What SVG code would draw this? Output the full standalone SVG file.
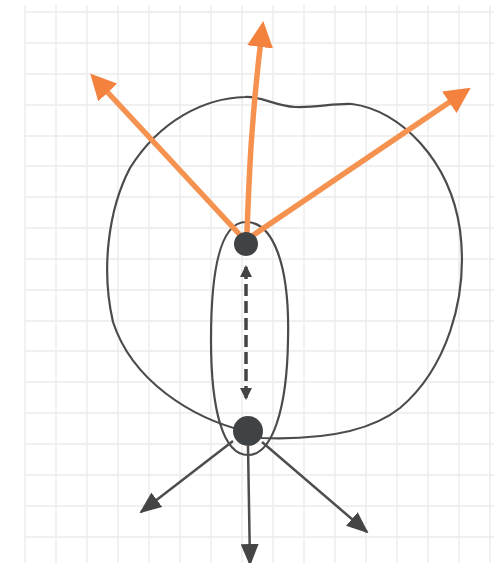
<svg xmlns="http://www.w3.org/2000/svg" width="494" height="563" viewBox="0 0 494 563">
<style>
.grid line{stroke:#ebebeb;stroke-width:1.4}
.outline{fill:none;stroke:#4b4b4b;stroke-width:2.2;stroke-linejoin:round}
.dot{fill:#3f4346}
.orange{fill:none;stroke:#f5924f;stroke-width:5.5;stroke-linecap:round}
.gray{fill:none;stroke:#4d4d4d;stroke-width:2.5}
.dash{fill:none;stroke:#444;stroke-width:3.5;stroke-dasharray:12 5}
</style>
<defs>
<marker id="oh" markerUnits="userSpaceOnUse" markerWidth="26" markerHeight="26" viewBox="0 0 24 24" refX="12" refY="12" orient="auto">
<path d="M0,0 L24,12 L0,24 Z" fill="#f4823f"/>
</marker>
<marker id="gh" markerUnits="userSpaceOnUse" markerWidth="22" markerHeight="18" viewBox="0 0 22 18" refX="20" refY="9" orient="auto">
<path d="M0,0 L22,9 L0,18 Z" fill="#454545"/>
</marker>
<marker id="dh" markerUnits="userSpaceOnUse" markerWidth="12" markerHeight="12" viewBox="0 0 12 12" refX="10" refY="6" orient="auto-start-reverse">
<path d="M0,0 L12,6 L0,12 Z" fill="#444"/>
</marker>
</defs>
<rect width="494" height="563" fill="#ffffff"/>
<g class="grid">
<line x1="25" y1="5" x2="25" y2="563"/><line x1="56" y1="5" x2="56" y2="563"/><line x1="87" y1="5" x2="87" y2="563"/><line x1="118" y1="5" x2="118" y2="563"/><line x1="149" y1="5" x2="149" y2="563"/><line x1="180" y1="5" x2="180" y2="563"/><line x1="211" y1="5" x2="211" y2="563"/><line x1="242" y1="5" x2="242" y2="563"/><line x1="273" y1="5" x2="273" y2="563"/><line x1="304" y1="5" x2="304" y2="563"/><line x1="335" y1="5" x2="335" y2="563"/><line x1="366" y1="5" x2="366" y2="563"/><line x1="397" y1="5" x2="397" y2="563"/><line x1="428" y1="5" x2="428" y2="563"/><line x1="459" y1="5" x2="459" y2="563"/><line x1="490" y1="5" x2="490" y2="563"/>
<line x1="25" y1="12" x2="494" y2="12"/><line x1="25" y1="43" x2="494" y2="43"/><line x1="25" y1="74" x2="494" y2="74"/><line x1="25" y1="105" x2="494" y2="105"/><line x1="25" y1="136" x2="494" y2="136"/><line x1="25" y1="166" x2="494" y2="166"/><line x1="25" y1="197" x2="494" y2="197"/><line x1="25" y1="228" x2="494" y2="228"/><line x1="25" y1="259" x2="494" y2="259"/><line x1="25" y1="290" x2="494" y2="290"/><line x1="25" y1="321" x2="494" y2="321"/><line x1="25" y1="351" x2="494" y2="351"/><line x1="25" y1="382" x2="494" y2="382"/><line x1="25" y1="413" x2="494" y2="413"/><line x1="25" y1="444" x2="494" y2="444"/><line x1="25" y1="475" x2="494" y2="475"/><line x1="25" y1="506" x2="494" y2="506"/><line x1="25" y1="537" x2="494" y2="537"/>
</g>
<g id="outer-region">
<path class="outline" d="M245,97 C262,96 275,106 295,107 C315,108 335,103 352,104 C400,110 450,160 460,230 C469,300 445,370 400,408 C370,432 320,440 262,438 L248,432 C190,418 132,380 113,322 C101,270 108,210 130,168 C160,120 205,98 245,97 Z"/>
</g>
<g id="inner-region">
<path class="outline" d="M246,222 C272,222 290,262 288,340 C287,410 272,455 248,455 C223,455 211,410 211,340 C211,262 222,222 246,222 Z"/>
</g>
<g id="connectors">
<path class="orange" d="M240,235 L99,83" marker-end="url(#oh)"/>
<path class="orange" d="M247,232 C249,180 251,120 261.7,34" marker-end="url(#oh)"/>
<path class="orange" d="M252,236 L460,95" marker-end="url(#oh)"/>
<path class="dash" d="M246,267 L246,398" marker-start="url(#dh)" marker-end="url(#dh)"/>
<path class="gray" d="M233,441 L141,512" marker-end="url(#gh)"/>
<path class="gray" d="M248,446 L250,564" marker-end="url(#gh)"/>
<path class="gray" d="M262,442 L367,532" marker-end="url(#gh)"/>
</g>
<g id="node-top">
<circle class="dot" cx="246" cy="244" r="12"/>
</g>
<g id="node-bottom">
<circle class="dot" cx="248" cy="431" r="15"/>
</g>
</svg>
